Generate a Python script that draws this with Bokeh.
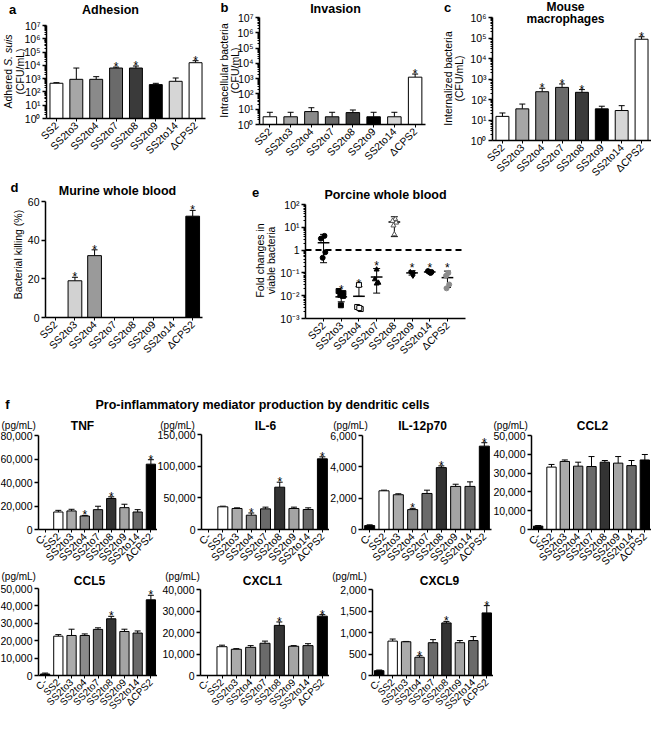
import math
from bokeh.plotting import figure
from bokeh.models import (ColumnDataSource, Range1d, Label,
                          Whisker, TeeHead, FixedTicker, NumeralTickFormatter)
from bokeh.layouts import column, row
from bokeh.embed import file_html
from bokeh.resources import INLINE
from bokeh.core.properties import value
from bokeh.core.property.dataspec import DataSpec

FONT = "Liberation Sans"

# ---------------- data ----------------
strains = ["SS2", "SS2to3", "SS2to4", "SS2to7", "SS2to8", "SS2to9", "SS2to14", "ΔCPS2"]
strains_f = ["C-"] + strains

# a  Adhesion (CFU/mL)
adhesion = [450, 890, 890, 6300, 6300, 355, 630, 15800]
adhesion_sd = [50, 5400, 520, 1100, 2600, 90, 490, 6600]
adhesion_stars = ["SS2to7", "SS2to8", "ΔCPS2"]
# b  Invasion (CFU/mL)
invasion = [3.2, 3.2, 7.0, 3.2, 6.0, 3.2, 3.2, 1250]
invasion_sd = [3.1, 3.1, 5.5, 3.1, 2.9, 3.1, 3.1, 750]
invasion_stars = ["ΔCPS2"]
# c  Mouse macrophages (CFU/mL)
macrophage = [15, 35, 240, 390, 224, 35, 29, 87000]
macrophage_sd = [7, 25, 115, 185, 80, 12, 21, 28000]
macrophage_stars = ["SS2to4", "SS2to7", "SS2to8", "ΔCPS2"]
# d  Murine whole blood, bacterial killing (%)
killing = [0, 19.0, 32.0, 0, 0, 0, 0, 52.4]
killing_sd = [0, 1.8, 3.0, 0, 0, 0, 0, 3.0]
killing_stars = ["SS2to3", "SS2to4", "ΔCPS2"]
# e  Porcine whole blood, fold change in viable bacteria
e_ss2 = [4.2, 3.2, 0.81, 0.46]
e_ss2to3 = [0.016, 0.013, 0.011, 0.0098, 0.0038]
e_ss2to4 = [0.03, 0.0032, 0.0026, 0.0029]
e_ss2to7 = [0.14, 0.052, 0.037, 0.034]
e_ss2to8 = [23, 19, 16, 12, 4.9]
e_ss2to9 = [0.11, 0.10, 0.094, 0.074]
e_ss2to14 = [0.12, 0.11, 0.105, 0.10]
e_cps2 = [0.10, 0.075, 0.031, 0.021]
e_mean = [2.1, 0.0089, 0.0094, 0.066, 16.9, 0.10, 0.11, 0.062]
e_upper = [4.9, 0.0138, 0.025, 0.155, 29, 0.125, 0.12, 0.12]
e_lower = [0.28, 0.0054, 0.0094, 0.013, 3.9, 0.08, 0.10, 0.023]
e_baseline = 1.0
e_stars = ["SS2to3", "SS2to4", "SS2to7", "SS2to9", "SS2to14", "ΔCPS2"]
# f  cytokines (pg/mL)
tnf = [0, 14900, 15800, 11500, 16900, 26400, 18600, 14900, 55600]
tnf_sd = [0, 1400, 1400, 500, 2900, 1400, 2900, 2000, 3800]
il6 = [0, 35800, 33200, 22600, 32600, 66800, 33200, 31600, 111600]
il6_sd = [0, 1000, 1000, 3500, 2700, 7900, 2100, 2600, 3100]
il12 = [250, 2470, 2220, 1270, 2300, 3950, 2750, 2750, 5320]
il12_sd = [50, 40, 60, 80, 210, 110, 140, 290, 220]
ccl2 = [1800, 33200, 36200, 33700, 33500, 35800, 35300, 34000, 37000]
ccl2_sd = [300, 1400, 800, 2100, 5300, 900, 3500, 2700, 2900]
ccl5 = [870, 22600, 23000, 23000, 26500, 32600, 25300, 24400, 43500]
ccl5_sd = [530, 900, 3600, 900, 900, 1400, 1300, 1200, 2600]
cxcl1 = [0, 13400, 12200, 13100, 15000, 23300, 13600, 13900, 27600]
cxcl1_sd = [0, 700, 300, 800, 1000, 1600, 300, 900, 700]
cxcl9 = [113, 800, 785, 424, 763, 1223, 763, 813, 1456]
cxcl9_sd = [14, 48, 7, 36, 71, 35, 50, 92, 169]
stars_tnf = ["SS2to4", "SS2to8", "ΔCPS2"]
stars_il6 = ["SS2to4", "SS2to8", "ΔCPS2"]
stars_il12 = ["SS2to4", "SS2to8", "ΔCPS2"]
stars_ccl2 = []
stars_ccl5 = ["SS2to8", "ΔCPS2"]
stars_cxcl1 = ["SS2to8", "ΔCPS2"]
stars_cxcl9 = ["SS2to4", "SS2to8", "ΔCPS2"]

# ---------------- styles ----------------
colors_ac = ["#ffffff", "#a6a6a6", "#8a8a8a", "#6a6a6a", "#3a3a3a", "#000000", "#d6d6d6", "#ffffff"]
colors_d = ["#ffffff", "#d2d2d2", "#9a9a9a", "#ffffff", "#ffffff", "#ffffff", "#ffffff", "#000000"]
colors_f = ["#000000", "#ffffff", "#ababab", "#8a8a8a", "#6a6a6a", "#333333", "#a4a4a4", "#6a6a6a", "#000000"]
e_offsets = [[0.05, -0.15, 0.1, -0.05], [-0.15, 0.12, -0.05, 0.1, -0.02], [0.0, -0.1, 0.1, 0.02],
             [0.0, -0.1, 0.1, 0.0], [0.05, -0.1, 0.1, -0.05, 0.0], [-0.1, 0.1, 0.0, 0.05],
             [-0.1, 0.1, 0.0, 0.05], [0.05, -0.08, 0.1, -0.05]]
e_marker = ["circle", "square", "square", "triangle", "triangle", "diamond", "circle", "circle"]
e_fill = ["black", "black", "white", "black", "white", "black", "black", "#8c8c8c"]
e_line = ["black", "black", "black", "black", "#555555", "black", "black", "#8c8c8c"]

SUP = str.maketrans("-0123456789", "⁻⁰¹²³⁴⁵⁶⁷⁸⁹")
VERT = math.pi / 2


def fnt(cls):
    prop = cls.lookup("text_font").property
    return value(FONT) if isinstance(prop, DataSpec) else FONT


LFONT = fnt(Label)


def add_text(p, box, px, py, text, size="12.5px", bold=False, align="center", angle=0.0, italic=False):
    """Place a text at page pixel (px, py) inside figure p whose page box is (fx, fy, w, h)."""
    fx, fy, w, h = box
    style = "bold" if bold else ("italic" if italic else "normal")
    p.add_layout(Label(x=px - fx, y=fy + h - py, x_units="screen", y_units="screen", text=text,
                       angle=angle, text_font=LFONT, text_font_size=size, text_font_style=style,
                       text_align=align, text_baseline="middle", text_color="black"))


def panel(box, cats, lo, hi, axis_box, log=False, pad=0.0, xlabel_size="10.5px"):
    """Figure whose frame fills the whole box; axes sit at fixed locations so that the
    plotting area (axis_box = left, right, top, bottom in page pixels) matches the reference."""
    fx, fy, w, h = box
    ax_l, ax_r, ax_t, ax_b = axis_box
    n = len(cats)
    ppc = (ax_r - ax_l) / (n + 2 * pad)
    c0 = ax_l + (pad + 0.5) * ppc
    x_range = Range1d((fx - c0) / ppc, (fx + w - c0) / ppc)
    l0, l1 = (math.log10(lo), math.log10(hi)) if log else (lo, hi)
    upp = (l1 - l0) / (ax_b - ax_t)
    ys = l0 - (fy + h - ax_b) * upp
    ye = l1 + (ax_t - fy) * upp
    y_range = Range1d(10 ** ys, 10 ** ye) if log else Range1d(ys, ye)
    p = figure(width=w, height=h, x_range=x_range, y_range=y_range,
               y_axis_type="log" if log else "linear", output_backend="svg",
               toolbar_location=None, title=None, min_border=0,
               min_border_left=0, min_border_right=0, min_border_top=0, min_border_bottom=0)
    p.outline_line_color = None
    p.xgrid.visible = False
    p.ygrid.visible = False
    for ax in p.axis:
        ax.axis_line_color = "black"
        ax.axis_line_width = 1.5
        ax.major_tick_line_color = "black"
        ax.major_tick_line_width = 1.5
        ax.major_tick_in = 0
        ax.major_tick_out = 4
        ax.minor_tick_in = 0
        ax.minor_tick_out = 2
        ax.minor_tick_line_color = "black"
        ax.major_label_text_font = FONT
        ax.major_label_text_font_size = "10.5px"
        ax.major_label_text_color = "black"
        ax.major_label_standoff = 2
    xa, ya = p.xaxis[0], p.yaxis[0]
    xa.fixed_location = lo
    xa.bounds = (-0.5 - pad, n - 0.5 + pad)
    xa.ticker = FixedTicker(ticks=list(range(n)))
    xa.major_label_overrides = {i: c for i, c in enumerate(cats)}
    xa.major_label_orientation = math.pi / 4
    xa.major_label_text_font_size = xlabel_size
    xa.major_tick_out = 3
    xa.major_tick_line_width = 1
    ya.fixed_location = -0.5 - pad
    ya.bounds = (lo, hi)
    if log:
        e0, e1 = int(round(l0)), int(round(l1))
        ticks = [10.0 ** e if e < 0 else 10 ** e for e in range(e0, e1 + 1)]
        minor = [k * (10.0 ** e) for e in range(e0, e1) for k in range(2, 10)]
        ya.ticker = FixedTicker(ticks=ticks, minor_ticks=minor)
        ya.major_label_overrides = {t: ("1" if e == 0 and e0 < 0 else "10" + str(e).translate(SUP))
                                    for e, t in zip(range(e0, e1 + 1), ticks)}
    return p


def stars_at(p, xs, ys, dy=0):
    if xs:
        p.text(x=xs, y=ys, text=["*"] * len(xs), text_align="center", text_baseline="alphabetic",
               y_offset=dy, text_font=value(FONT), text_font_size="12px", text_color="black")


def bars(p, cats, vals, sds, colors, stars, lo, width=0.65):
    xs = list(range(len(cats)))
    src = ColumnDataSource(dict(x=xs, top=vals, color=colors))
    p.vbar(x="x", top="top", bottom=lo, width=width, source=src,
           fill_color="color", line_color="black", line_width=1)
    keep = [i for i, s in enumerate(sds) if s > 0]
    wsrc = ColumnDataSource(dict(x=keep, lo=[vals[i] for i in keep], hi=[vals[i] + sds[i] for i in keep]))
    p.add_layout(Whisker(base="x", lower="lo", upper="hi", source=wsrc, dimension="height",
                         line_color="black", line_width=1,
                         upper_head=TeeHead(size=6, line_color="black", line_width=1),
                         lower_head=None))
    si = [cats.index(c) for c in stars]
    stars_at(p, si, [vals[i] + sds[i] for i in si])


# ---------------- a ----------------
box_a = (8, 8, 212, 181)
pa = panel(box_a, strains, 1, 1e7, (54, 213, 33, 126), log=True)
bars(pa, strains, adhesion, adhesion_sd, colors_ac, adhesion_stars, 1)
add_text(pa, box_a, 20, 17, "a", "13px", True)
add_text(pa, box_a, 118, 17, "Adhesion", "12.5px", True)
add_text(pa, box_a, 15, 116, "Adhered ", "10.5px", align="left", angle=VERT)
add_text(pa, box_a, 15, 116 - 42.6, "S. suis", "10.5px", align="left", angle=VERT, italic=True)
add_text(pa, box_a, 27, 79, "(CFU/mL)", "10.5px", angle=VERT)

# ---------------- b ----------------
box_b = (220, 8, 220, 181)
pb = panel(box_b, strains, 1, 1e7, (267, 433, 25, 132), log=True)
bars(pb, strains, invasion, invasion_sd, colors_ac, invasion_stars, 1)
add_text(pb, box_b, 232, 15, "b", "13px", True)
add_text(pb, box_b, 343, 16, "Invasion", "12.5px", True)
add_text(pb, box_b, 231, 78, "Intracellular bacteria", "10.5px", angle=VERT)
add_text(pb, box_b, 242, 78, "(CFU/mL)", "10.5px", angle=VERT)

# ---------------- c ----------------
box_c = (440, 8, 219, 181)
pc = panel(box_c, strains, 1, 1e6, (500, 659, 25, 148), log=True)
bars(pc, strains, macrophage, macrophage_sd, colors_ac, macrophage_stars, 1)
add_text(pc, box_c, 455, 15, "c", "13px", True)
add_text(pc, box_c, 573, 14.5, "Mouse", "12px", True)
add_text(pc, box_c, 573, 26.5, "macrophages", "12px", True)
add_text(pc, box_c, 455, 86, "Internalized bacteria", "10.5px", angle=VERT)
add_text(pc, box_c, 466, 86, "(CFU/mL)", "10.5px", angle=VERT)

# ---------------- d ----------------
box_d = (8, 189, 212, 214)
pd_ = panel(box_d, strains, 0, 60, (53, 210, 209, 325))
pd_.yaxis.ticker = FixedTicker(ticks=[0, 20, 40, 60])
bars(pd_, strains, killing, killing_sd, colors_d, killing_stars, 0, width=0.7)
add_text(pd_, box_d, 22, 195, "d", "13px", True)
add_text(pd_, box_d, 125, 198, "Murine whole blood", "12.5px", True)
add_text(pd_, box_d, 25, 262, "Bacterial killing (%)", "10.5px", angle=VERT)

# ---------------- e ----------------
box_e = (220, 189, 260, 214)
E_PAD = 0.52
pe = panel(box_e, strains, 1e-3, 1e2, (313, 473, 212, 326), log=True, pad=E_PAD)
e_idx = list(range(len(strains)))
pe.line(x=[-0.5 - E_PAD, len(strains) - 0.5 + E_PAD], y=[e_baseline, e_baseline],
        line_color="black", line_width=2, line_dash="6 4")
e_groups = [e_ss2, e_ss2to3, e_ss2to4, e_ss2to7, e_ss2to8, e_ss2to9, e_ss2to14, e_cps2]
pe.add_layout(Whisker(base="x", lower="lo", upper="hi",
                      source=ColumnDataSource(dict(x=e_idx, lo=e_lower, hi=e_upper)),
                      dimension="height", line_color="black", line_width=1,
                      upper_head=TeeHead(size=7, line_color="black", line_width=1),
                      lower_head=TeeHead(size=7, line_color="black", line_width=1)))
pe.segment(x0=[i - 0.33 for i in e_idx], x1=[i + 0.33 for i in e_idx],
           y0=e_mean, y1=e_mean, line_color="black", line_width=1.5)
for i, pts in enumerate(e_groups):
    pe.scatter(x=[i + o for o in e_offsets[i]], y=pts, marker=e_marker[i], size=5,
               fill_color=e_fill[i], line_color=e_line[i], line_width=1)
stars_at(pe, [strains.index(c) for c in e_stars], [e_upper[strains.index(c)] for c in e_stars], dy=-3)
add_text(pe, box_e, 263, 200, "e", "13px", True)
add_text(pe, box_e, 393, 202, "Porcine whole blood", "12.5px", True)
add_text(pe, box_e, 267, 268, "Fold changes in", "10.5px", angle=VERT)
add_text(pe, box_e, 278, 268, "viable bacteria", "10.5px", angle=VERT)

# ---------------- f title strip ----------------
box_f = (8, 403, 651, 18)
pf = figure(width=651, height=18, x_range=Range1d(0, 1), y_range=Range1d(0, 1),
            output_backend="svg", toolbar_location=None, title=None,
            x_axis_location=None, y_axis_location=None, min_border=0,
            min_border_left=0, min_border_right=0, min_border_top=0, min_border_bottom=0)
pf.outline_line_color = None
pf.grid.visible = False
add_text(pf, box_f, 15, 412, "f", "13px", True)
add_text(pf, box_f, 270, 412, "Pro-inflammatory mediator production by dendritic cells", "12.5px", True)


def cyto(box, axis_box, name, vals, sds, stars, top, step, unit_xy, unit_align, title_xy, xlabel_size="10.5px"):
    p = panel(box, strains_f, 0, top, axis_box, xlabel_size=xlabel_size)
    p.yaxis.ticker = FixedTicker(ticks=list(range(0, top + 1, step)))
    p.yaxis.formatter = NumeralTickFormatter(format="0,0")
    bars(p, strains_f, vals, sds, colors_f, stars, 0, width=0.7)
    add_text(p, box, unit_xy[0], unit_xy[1], "(pg/mL)", "10px", False, unit_align)
    add_text(p, box, title_xy[0], title_xy[1], name, "12px", True)
    return p


# ---------------- f row 1 (page y 421..579) ----------------
p_tnf = cyto((8, 421, 157, 158), (46, 165, 443, 537), "TNF", tnf, tnf_sd, stars_tnf, 80000, 20000,
             (9, 433), "left", (90, 433))
p_il6 = cyto((165, 421, 172, 158), (209, 337, 442, 537), "IL-6", il6, il6_sd, stars_il6, 150000, 50000,
             (185, 433), "center", (273, 433))
p_il12 = cyto((337, 421, 163, 158), (370, 499, 443, 537), "IL-12p70", il12, il12_sd, stars_il12, 6000, 2000,
              (358, 433), "center", (430, 433))
p_ccl2 = cyto((500, 421, 159, 158), (539, 659, 443, 537), "CCL2", ccl2, ccl2_sd, stars_ccl2, 50000, 10000,
              (501, 433), "left", (600, 433))

# ---------------- f row 2 (page y 579..723) ----------------
p_ccl5 = cyto((8, 579, 157, 144), (46, 165, 596, 683), "CCL5", ccl5, ccl5_sd, stars_ccl5, 50000, 10000,
              (9, 584), "left", (97, 588), xlabel_size="10px")
p_cxcl1 = cyto((165, 579, 172, 144), (208, 337, 597, 683), "CXCL1", cxcl1, cxcl1_sd, stars_cxcl1, 40000, 10000,
               (190, 584), "center", (270, 588), xlabel_size="10px")
p_cxcl9 = cyto((337, 579, 164, 144), (380, 501, 597, 683), "CXCL9", cxcl9, cxcl9_sd, stars_cxcl9, 2000, 500,
               (357, 584), "center", (447, 588), xlabel_size="10px")

layout = column(
    row(pa, pb, pc),
    row(pd_, pe),
    pf,
    row(p_tnf, p_il6, p_il12, p_ccl2),
    row(p_ccl5, p_cxcl1, p_cxcl9),
)

open("out.html", "w").write(file_html(layout, INLINE, title="S. suis capsule switching"))
